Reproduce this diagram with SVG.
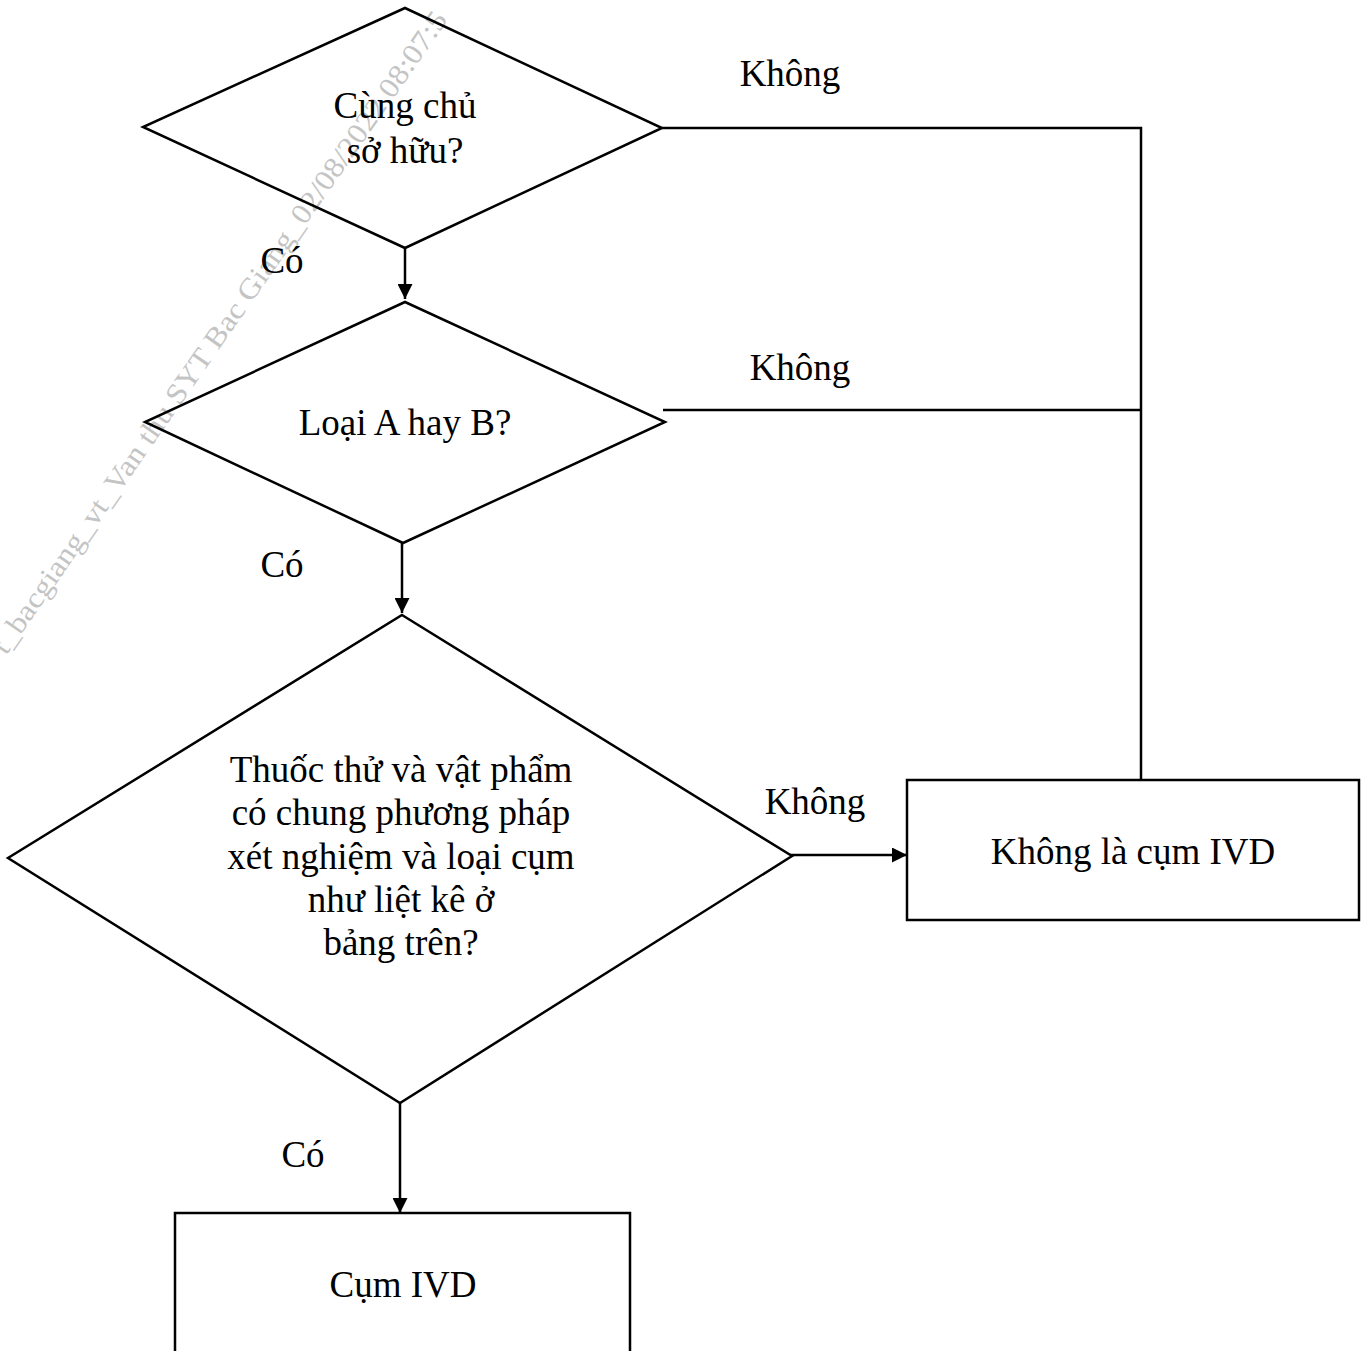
<svg xmlns="http://www.w3.org/2000/svg" width="1367" height="1351" viewBox="0 0 1367 1351">
<style>
.shape{fill:none;stroke:#000;stroke-width:2.5}
.line{fill:none;stroke:#000;stroke-width:2.5}
.t{font-family:"Liberation Serif","Times New Roman",serif;font-size:37px;fill:#000;text-anchor:middle}
.wm{font-family:"Liberation Serif","Times New Roman",serif;font-size:29px;fill:#c4c4c4}
</style>
<defs>
<marker id="arr" viewBox="0 0 10 10" refX="10" refY="5" markerWidth="6.5" markerHeight="6" markerUnits="strokeWidth" orient="auto">
<path d="M0,0 L10,5 L0,10 z" fill="#000"/>
</marker>
</defs>
<rect width="1367" height="1351" fill="#fff"/>
<text class="wm" x="0" y="0" transform="translate(6,656) rotate(-55.2)" textLength="775" lengthAdjust="spacingAndGlyphs">t_bacgiang_vt_Van thu SYT Bac Giang_02/08/2022 08:07:5</text>
<g id="connectors">
<line class="line" x1="405" y1="248" x2="405" y2="299" marker-end="url(#arr)"/>
<line class="line" x1="402" y1="543" x2="402" y2="613" marker-end="url(#arr)"/>
<line class="line" x1="400" y1="1103" x2="400" y2="1213" marker-end="url(#arr)"/>
<line class="line" x1="790" y1="855" x2="907" y2="855" marker-end="url(#arr)"/>
<polyline class="line" points="662,128 1141,128 1141,780"/>
<line class="line" x1="663" y1="410" x2="1141" y2="410"/>
<text class="t" x="790" y="86">Không</text>
<text class="t" x="282" y="273">Có</text>
<text class="t" x="800" y="380">Không</text>
<text class="t" x="282" y="577">Có</text>
<text class="t" x="815" y="814">Không</text>
<text class="t" x="303" y="1167">Có</text>
</g>
<g id="d1">
<polygon class="shape" points="405,8 662,128 405,248 143,127"/>
<text class="t" x="405" y="118">Cùng chủ</text>
<text class="t" x="405" y="163">sở hữu?</text>
</g>
<g id="d2">
<polygon class="shape" points="405,302 665,422 403,543 145,422"/>
<text class="t" x="405" y="435">Loại A hay B?</text>
</g>
<g id="d3">
<polygon class="shape" points="402,615 792,856 400,1103 8,858"/>
<text class="t" x="401" y="782">Thuốc thử và vật phẩm</text>
<text class="t" x="401" y="825">có chung phương pháp</text>
<text class="t" x="401" y="869">xét nghiệm và loại cụm</text>
<text class="t" x="401" y="912">như liệt kê ở</text>
<text class="t" x="401" y="955">bảng trên?</text>
</g>
<g id="notivd">
<rect class="shape" x="907" y="780" width="452" height="140"/>
<text class="t" x="1133" y="864">Không là cụm IVD</text>
</g>
<g id="ivd">
<rect class="shape" x="175" y="1213" width="455" height="160"/>
<text class="t" x="403" y="1297">Cụm IVD</text>
</g>
</svg>
